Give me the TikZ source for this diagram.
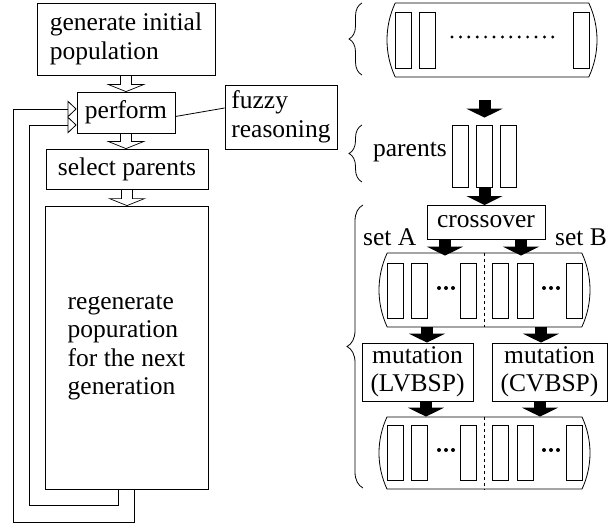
\documentclass[tikz,border=0pt]{standalone}
\usepackage{fontspec}
\setmainfont{Liberation Serif}
\usetikzlibrary{arrows.meta, calc, decorations.pathreplacing, shapes.misc}

\tikzset{
  box/.style={draw, line width=0.8pt, inner sep=0pt, align=left},
  capsule/.style={draw, line width=0.8pt, rounded rectangle, rounded rectangle arc length=50, inner sep=0pt},
  cell/.style={draw, line width=0.8pt, inner sep=0pt, minimum width=16pt},
  fatarrow/.style={line width=12pt, -{Triangle[length=9pt, width=36pt]}},
  looparrow/.style={line width=0.8pt, -{Triangle[open, length=9pt, width=17pt]}},
  sidebrace/.style={decorate, decoration={brace, amplitude=13pt}, line width=0.8pt}
}

% outlined down arrow between two stacked boxes
\newcommand{\hollowdown}[2]{%
  \draw[line width=0.7pt] let \p1=(#1.south), \p2=(#2.north) in
    (\x1-5.5pt,\y1) -- (\x1-5.5pt,\y2+7pt) -- (\x1-17.5pt,\y2+7pt) -- (\x1,\y2)
    -- (\x1+17.5pt,\y2+7pt) -- (\x1+5.5pt,\y2+7pt) -- (\x1+5.5pt,\y1);}

\begin{document}
\begin{tikzpicture}[x=1pt, y=-1pt, font=\fontsize{25.5pt}{28.5pt}\selectfont]
    \useasboundingbox (0,0) rectangle (608,524);

    % left column
    \node[box, minimum width=178pt, minimum height=72pt] (gen) at (126,39) {generate initial\\population};
    \node[box, minimum width=98pt, minimum height=41pt] (perform) at (126,112.5) {perform};
    \node[box, minimum width=112pt, minimum height=64pt] (fuzzy) at (281,117) {fuzzy\\reasoning};
    \node[box, minimum width=162pt, minimum height=40pt] (select) at (127,169) {select parents};
    \node[box, minimum width=163pt, minimum height=283pt] (regen) at (126.5,347.5) {regenerate\\popuration\\for the next\\generation};

    \hollowdown{gen}{perform}
    \hollowdown{perform}{select}
    \hollowdown{select}{regen}
    \draw[line width=0.8pt] ([yshift=-4pt]perform.east) -- ([yshift=9pt]fuzzy.west);

    \draw[looparrow] ([xshift=8pt]regen.south) -- ++(0,33) -- ++(-121.5,0) |- ([yshift=3.5pt]perform.west);
    \draw[looparrow] ([xshift=-8pt]regen.south) -- ++(0,16) -- ++(-89.5,0) |- ([yshift=-12.5pt]perform.west);

    % population
    \node[capsule, minimum width=210pt, minimum height=74pt] (popul) at (492,40) {};
    \foreach \x [count=\i] in {403,427,581.5}
        \node[cell, minimum height=56pt] (pop\i) at (\x,40) {};
    \foreach \i in {0,...,12}
        \fill (452+8.4*\i,37) circle (1.6pt);
    \draw[sidebrace] (362,75) -- (362,3);

    % parents
    \foreach \x [count=\i] in {460,484.5,508.5}
        \node[cell, minimum height=62pt] (par\i) at (\x,156) {};
    \node[anchor=base east, inner sep=0pt] (parlbl) at (447,157) {parents};
    \draw[sidebrace] (362,182) -- (362,125);
    \draw[fatarrow] ($(popul.south -| par2.north)+(0,23)$) -- ($(par2.north)+(0,-7)$);
    \draw[fatarrow] (par2.south) -- (par2.south |- {(0,205)});

    % crossover and mutation
    \node[box, align=center, minimum width=118pt, minimum height=34pt] (cross) at (486,222) {crossover};
    \node[anchor=base west, inner sep=0pt] (setA) at (363,245) {set A};
    \node[anchor=base west, inner sep=0pt] (setB) at (555,245) {set B};

    \node[capsule, minimum width=211pt, minimum height=74pt] (crossed) at (484.5,290) {};
    \draw[line width=0.6pt, dashed] (crossed.north) -- (crossed.south);
    \foreach \x [count=\i] in {395,419.5,468,500,525,574}
        \node[cell, minimum height=55pt] (mid\i) at (\x,290.5) {};

    \node[box, align=center, minimum width=111pt, minimum height=58pt] (mutL) at (417.5,372) {mutation\\(LVBSP)};
    \node[box, align=center, minimum width=115pt, minimum height=58pt] (mutR) at (549.5,372) {mutation\\(CVBSP)};

    \node[capsule, minimum width=211pt, minimum height=72pt] (mutated) at (484.5,453) {};
    \draw[line width=0.6pt, dashed] (mutated.north) -- (mutated.south);
    \foreach \x [count=\i] in {395,419.5,468,500,525,574}
        \node[cell, minimum height=55pt] (new\i) at (\x,452.5) {};

    \foreach \x in {439,446,453,544,551,558} {
        \fill (\x,288) circle (2pt);
        \fill (\x,450) circle (2pt);
    }

    \draw[fatarrow] ($(cross.south)+(-41,0)$) -- ($(cross.south |- crossed.north)+(-41,3)$);
    \draw[fatarrow] ($(cross.south)+(35,0)$) -- ($(cross.south |- crossed.north)+(35,3)$);
    \draw[fatarrow] ($(mutL.north |- crossed.south)+(9.5,0)$) -- ($(mutL.north)+(9.5,0)$);
    \draw[fatarrow] ($(mutR.north |- crossed.south)+(-8.5,0)$) -- ($(mutR.north)+(-8.5,0)$);
    \draw[fatarrow] ($(mutL.south)+(8.5,0)$) -- ($(mutL.south |- mutated.north)+(8.5,0)$);
    \draw[fatarrow] ($(mutR.south)+(-9.5,0)$) -- ($(mutR.south |- mutated.north)+(-9.5,0)$);

    \draw[decorate, decoration={brace, amplitude=16pt}, line width=0.8pt] (363,488) -- (363,205);
\end{tikzpicture}
\end{document}
